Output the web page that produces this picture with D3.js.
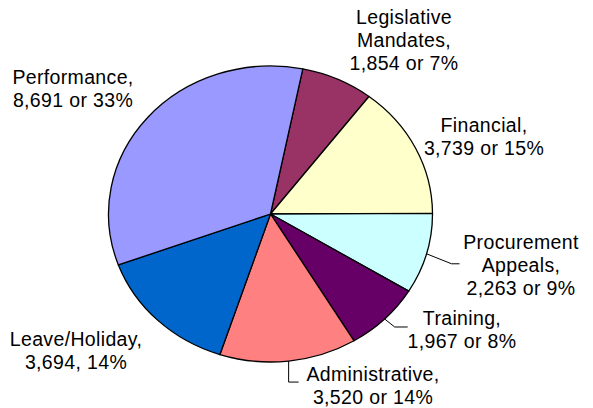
<!DOCTYPE html>
<html><head><meta charset="utf-8">
<script src="https://cdn.jsdelivr.net/npm/d3@7"></script>
<style>
html,body{margin:0;padding:0;background:#fff;}
svg{display:block;}
text{font-family:Arial,"Liberation Sans",sans-serif;font-size:19.5px;letter-spacing:0.35px;fill:#000;}
</style></head><body>
<svg id="chart" width="593" height="408"></svg>
<script>
// data
const categories = ["Legislative Mandates","Financial","Procurement Appeals","Training","Administrative","Leave/Holiday","Performance"];
const values = [1854, 3739, 2263, 1967, 3520, 3694, 8691];
const percents = [7, 15, 9, 8, 14, 14, 33];
const labelLines = [
  ["Legislative","Mandates,","1,854 or 7%"],
  ["Financial,","3,739 or 15%"],
  ["Procurement","Appeals,","2,263 or 9%"],
  ["Training,","1,967 or 8%"],
  ["Administrative,","3,520 or 14%"],
  ["Leave/Holiday,","3,694, 14%"],
  ["Performance,","8,691 or 33%"]
];
const colors = ["#993366","#FFFFCC","#CCFFFF","#660066","#FF8080","#0066CC","#9999FF"];

// layout
const cx = 270.5, cy = 214, rx = 162, ry = 148;
const startDeg = 11.5;
const labelPos = [[404,17],[484,125],[521,242],[462,318],[373,374],[76,339],[73,77]];
const leaders = [null,null,{dx:25,dy:10,h:8},{dx:10,dy:8,h:13},{dx:0,dy:21,h:10},null,null];
const lineH = 23;

const svg = d3.select("#chart");
const pie = d3.pie().sort(null).value(d=>d)
  .startAngle(startDeg*Math.PI/180).endAngle((startDeg+360)*Math.PI/180);
const arcs = pie(values);
const arc = d3.arc().innerRadius(0).outerRadius(rx);
const edgeArc = d3.arc().innerRadius(rx).outerRadius(rx);

const g = svg.append("g").attr("transform",`translate(${cx},${cy}) scale(1,${ry/rx})`);
g.selectAll("path").data(arcs).join("path")
  .attr("d", arc)
  .attr("fill",(d,i)=>colors[i])
  .attr("stroke","#000")
  .attr("stroke-width",1.3)
  .attr("stroke-linejoin","round")
  .attr("vector-effect","non-scaling-stroke");

// leader lines
arcs.forEach((d,i)=>{
  const L = leaders[i];
  if(!L) return;
  const [ex,ey] = edgeArc.centroid(d);
  const x0 = cx+ex, y0 = cy+ey*ry/rx;
  const x1 = x0+L.dx, y1 = y0+L.dy;
  const x2 = x1+L.h;
  svg.append("polyline")
    .attr("points",`${x0},${y0} ${x1},${y1} ${x2},${y1}`)
    .attr("fill","none").attr("stroke","#000").attr("stroke-width",1);
});

// labels
labelLines.forEach((lines,i)=>{
  const [lx,ly] = labelPos[i];
  const t = svg.append("text").attr("text-anchor","middle");
  lines.forEach((s,k)=>{
    t.append("tspan").attr("x",lx).attr("y",ly+k*lineH).attr("dy","0.35em").text(s);
  });
});
</script>
</body></html>
